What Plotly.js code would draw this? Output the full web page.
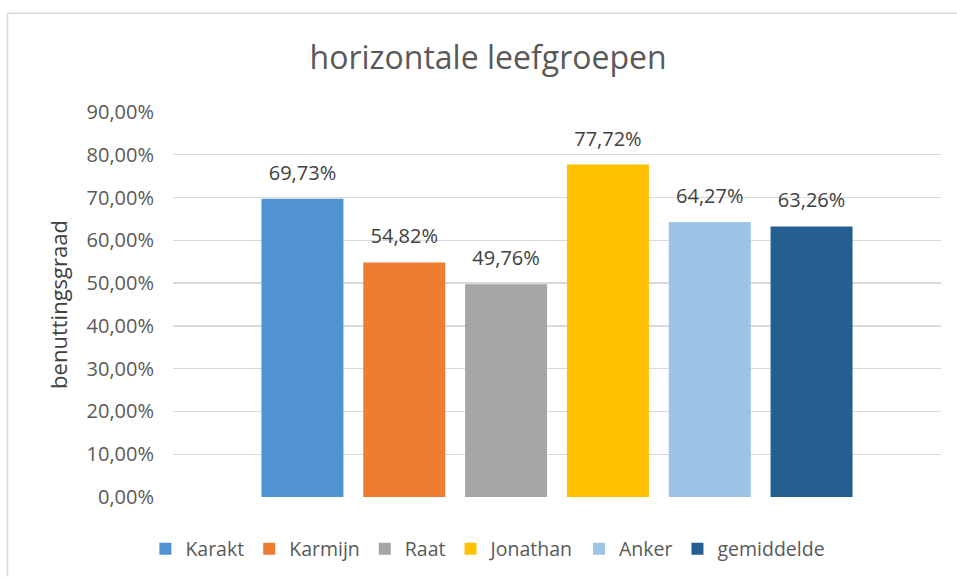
<!DOCTYPE html>
<html><head><meta charset="utf-8">
<script src="https://cdn.plot.ly/plotly-3.0.1.min.js"></script>
<style>html,body{margin:0;padding:0;background:#fff}#chart{width:957px;height:580px}</style>
</head><body><div id="chart"></div>
<script>
var seriesNames = ["Karakt", "Karmijn", "Raat", "Jonathan", "Anker", "gemiddelde"];
var seriesValues = [0.6973, 0.5482, 0.4976, 0.7772, 0.6427, 0.6326];
var seriesColors = ["#5093D0", "#ED7D31", "#A5A5A5", "#FFC000", "#9DC3E6", "#255E91"];
var category = [""];
var FONT = "'Open Sans', sans-serif";

var traces = seriesNames.map(function(n, i){
  return {
    type: "bar", name: n, x: category, y: [seriesValues[i]],
    marker: {color: seriesColors[i]},
    texttemplate: "<span style='font-size:20px'>%{y:.2%}</span><br> ",
    textposition: "outside", cliponaxis: false,
    textfont: {family: FONT, size: 10, color: "#404040"},
    hoverinfo: "name+y"
  };
});

var layout = {
  width: 957, height: 580,
  margin: {l: 173, r: 16, t: 112, b: 80},
  paper_bgcolor: "#fff", plot_bgcolor: "#fff",
  separators: ",.",
  font: {family: FONT, color: "#595959"},
  title: {text: "horizontale leefgroepen", font: {family: FONT, size: 32, color: "#595959"},
          x: 0.51, xanchor: "center", y: 0.9, yanchor: "middle"},
  barmode: "group", bargap: 0.2045, bargroupgap: 0.195,
  xaxis: {showticklabels: false, showgrid: false, zeroline: false, showline: false, fixedrange: true},
  yaxis: {range: [0, 0.9], dtick: 0.1, tickformat: ".2%", gridcolor: "#D9D9D9", gridwidth: 1.3,
          zeroline: false, showline: false, ticks: "", ticklen: 0, ticklabelstandoff: 18,
          tickfont: {family: FONT, size: 20, color: "#595959"},
          title: {text: "benuttingsgraad", font: {family: FONT, size: 22, color: "#404040"}, standoff: 12}},
  showlegend: true,
  legend: {orientation: "h", x: 0.41, xanchor: "center", y: -0.135, yanchor: "middle",
           font: {family: FONT, size: 19.5, color: "#595959"}, itemwidth: 30, traceorder: "normal"},
  shapes: [
    {type: "line", xref: "paper", yref: "paper", x0: (7.5-173)/768, x1: (957-173)/768,
     y0: (500-12.5)/388, y1: (500-12.5)/388, line: {color: "#D9D9D9", width: 1.5}},
    {type: "line", xref: "paper", yref: "paper", x0: (7.5-173)/768, x1: (7.5-173)/768,
     y0: (500-12.5)/388, y1: (500-580)/388, line: {color: "#D9D9D9", width: 1.5}}
  ]
};
Plotly.newPlot("chart", traces, layout, {displayModeBar: false, staticPlot: true});
</script></body></html>
